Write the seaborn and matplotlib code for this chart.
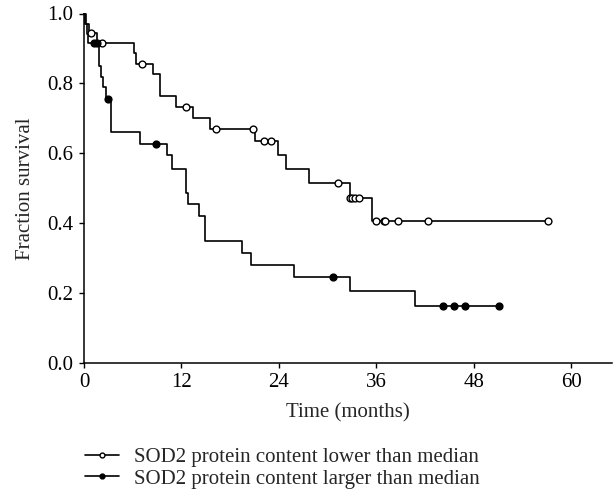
import numpy as np
import pandas as pd
import matplotlib
matplotlib.use("Agg")
import matplotlib.pyplot as plt
import seaborn as sns
from matplotlib.lines import Line2D

# ---- data ----
low_time = [0, 0.3, 0.6, 1.6, 6.1, 6.4, 8.5, 9.35, 11.3, 13.4, 15.5, 21.0,
            23.9, 24.9, 27.7, 32.7, 35.5, 57.1]
low_surv = [1.0, 0.971, 0.943, 0.915, 0.887, 0.856, 0.826, 0.764, 0.732,
            0.702, 0.670, 0.634, 0.596, 0.555, 0.516, 0.472, 0.407, 0.407]
low_censor = [0.86, 2.2, 7.2, 12.6, 16.3, 20.8, 22.1, 23.0, 31.3, 32.75, 33.0,
              33.4, 33.9, 35.9, 36.9, 37.1, 38.7, 42.3, 57.1]

high_time = [0, 0.15, 0.35, 0.55, 1.8, 2.1, 2.4, 2.65, 3.3, 6.9, 10.25, 10.8,
             12.6, 12.85, 14.1, 14.9, 19.5, 20.6, 25.8, 32.7, 40.7, 51.1]
high_surv = [1.0, 0.97, 0.94, 0.915, 0.851, 0.818, 0.79, 0.756, 0.661, 0.626,
             0.594, 0.556, 0.485, 0.454, 0.42, 0.349, 0.316, 0.279, 0.245,
             0.205, 0.163, 0.163]
high_censor = [1.2, 1.6, 2.95, 8.9, 30.6, 44.2, 45.6, 46.9, 51.1]

x_ticks = [0, 12, 24, 36, 48, 60]
y_ticks = [0.0, 0.2, 0.4, 0.6, 0.8, 1.0]
label_low = "SOD2 protein content lower than median"
label_high = "SOD2 protein content larger than median"


def step_value(times, surv, t):
    idx = np.searchsorted(np.asarray(times), t, side="right") - 1
    return np.asarray(surv)[idx]


sns.set_style("ticks")
plt.rcParams["font.family"] = ["Liberation Serif", "DejaVu Serif"]
FS = 15

fig = plt.figure(figsize=(6.14, 4.96), dpi=100)
ax = fig.add_axes([84 / 614, 1 - 363 / 496, 528 / 614, (363 - 13.5) / 496])

low_df = pd.DataFrame({"t": low_time, "s": low_surv})
high_df = pd.DataFrame({"t": high_time, "s": high_surv})
sns.lineplot(data=low_df, x="t", y="s", ax=ax, color="black", lw=1.2,
             drawstyle="steps-post", estimator=None, sort=False, legend=False,
             clip_on=False)
sns.lineplot(data=high_df, x="t", y="s", ax=ax, color="black", lw=1.2,
             drawstyle="steps-post", estimator=None, sort=False, legend=False,
             clip_on=False)

lc = pd.DataFrame({"t": low_censor,
                   "s": step_value(low_time, low_surv, np.array(low_censor))})
hc = pd.DataFrame({"t": high_censor,
                   "s": step_value(high_time, high_surv, np.array(high_censor))})
sns.scatterplot(data=lc, x="t", y="s", ax=ax, marker="o", s=24,
                facecolor="white", edgecolor="black", linewidth=1.0,
                zorder=3, clip_on=False, legend=False)
sns.scatterplot(data=hc, x="t", y="s", ax=ax, marker="o", s=24,
                facecolor="black", edgecolor="black", linewidth=1.0,
                zorder=3, clip_on=False, legend=False)

ax.set_xlim(0, 65)
ax.set_ylim(0, 1.0)
ax.set_xticks(x_ticks)
ax.set_xticklabels([str(v) for v in x_ticks])
ax.set_yticks(y_ticks)
ax.set_yticklabels([f"{v:.1f}" for v in y_ticks])
ax.tick_params(direction="out", length=3.5, width=1, colors="black",
               labelsize=FS, pad=4)
for sp in ["top", "right"]:
    ax.spines[sp].set_visible(False)
for sp in ["left", "bottom"]:
    ax.spines[sp].set_color("black")
    ax.spines[sp].set_linewidth(1.1)
ax.set_xlabel("Time (months)", fontsize=FS, labelpad=8)
ax.set_ylabel("Fraction survival", fontsize=FS, labelpad=9)

handles = [
    Line2D([], [], color="black", lw=1.2, marker="o", markersize=3.5,
           markerfacecolor="white", markeredgecolor="black"),
    Line2D([], [], color="black", lw=1.2, marker="o", markersize=3.5,
           markerfacecolor="black", markeredgecolor="black"),
]
fig.legend(handles, [label_low, label_high], loc="upper left",
           bbox_to_anchor=(77 / 614, 1 - 439 / 496), frameon=False,
           fontsize=FS, handlelength=1.6, handletextpad=0.75,
           labelspacing=0.1, borderaxespad=0)

fig.savefig("out.png", dpi=100)
